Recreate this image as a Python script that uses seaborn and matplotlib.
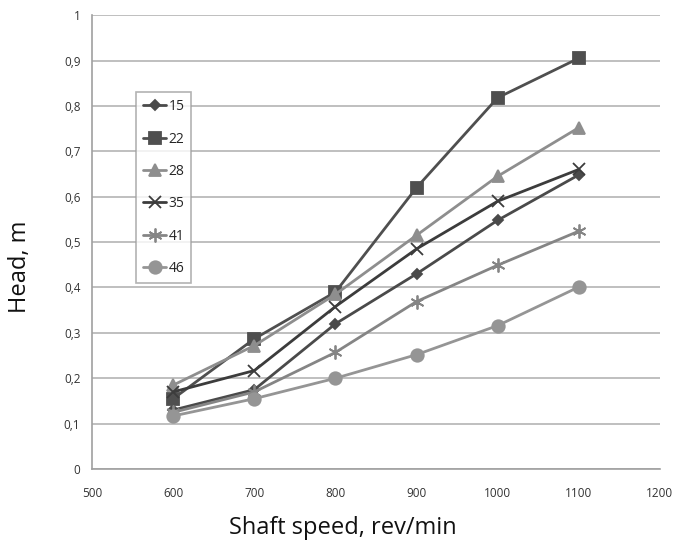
import matplotlib
matplotlib.use("Agg")
import matplotlib.pyplot as plt
import seaborn as sns
import pandas as pd
from matplotlib.ticker import FuncFormatter

speeds = [600, 700, 800, 900, 1000, 1100]
series_names = ["15", "22", "28", "35", "41", "46"]
h15 = [0.13, 0.175, 0.32, 0.43, 0.548, 0.648]
h22 = [0.155, 0.287, 0.39, 0.62, 0.818, 0.905]
h28 = [0.185, 0.272, 0.385, 0.515, 0.645, 0.752]
h35 = [0.17, 0.217, 0.358, 0.485, 0.59, 0.66]
h41 = [0.125, 0.17, 0.257, 0.369, 0.449, 0.524]
h46 = [0.117, 0.155, 0.2, 0.252, 0.316, 0.401]
x_ticks = [500, 600, 700, 800, 900, 1000, 1100, 1200]
y_ticks = [0, 0.1, 0.2, 0.3, 0.4, 0.5, 0.6, 0.7, 0.8, 0.9, 1]

values = [h15, h22, h28, h35, h41, h46]
rows = []
for name, vals in zip(series_names, values):
    for s, v in zip(speeds, vals):
        rows.append({"speed": s, "head": v, "series": name})
df = pd.DataFrame(rows)

sns.set_style("white")
plt.rcParams["font.family"] = ["Open Sans", "DejaVu Sans"]

colors = {"15": "#4a4a4a", "22": "#4f4f4f", "28": "#8e8e8e",
          "35": "#3c3c3c", "41": "#858585", "46": "#959595"}
markers = {"15": "D", "22": "s", "28": "^", "35": "x", "41": (6, 2, 0), "46": "o"}
msizes = {"15": 5.5, "22": 8, "28": 9, "35": 9, "41": 10, "46": 9}

fig = plt.figure(figsize=(6.88, 5.41), dpi=100)
ax = fig.add_axes([0.134, 0.133, 0.825, 0.839])

for name in series_names:
    sub = df[df["series"] == name]
    sns.lineplot(data=sub, x="speed", y="head", ax=ax, color=colors[name],
                 marker=markers[name], markersize=msizes[name],
                 markeredgecolor=colors[name], markeredgewidth=1.3,
                 linewidth=2.0, label=name)

ax.set_xlim(500, 1200)
ax.set_ylim(0, 1)
ax.set_xticks(x_ticks)
ax.set_yticks(y_ticks)
ax.yaxis.set_major_formatter(FuncFormatter(
    lambda v, p: "0" if v == 0 else ("1" if v == 1 else f"{v:.1f}".replace(".", ","))))
ax.grid(axis="y", color="#b4b4b4", linewidth=1.2)
ax.grid(axis="x", visible=False)
for sp in ["top", "right"]:
    ax.spines[sp].set_visible(False)
for sp in ["left", "bottom"]:
    ax.spines[sp].set_color("#a0a0a0")
    ax.spines[sp].set_linewidth(1.2)
ax.tick_params(axis="both", which="major", length=5, color="#a0a0a0",
               labelsize=8.5, labelcolor="#333333", direction="out")
ax.tick_params(axis="x", pad=8)
ax.set_axisbelow(True)

ax.set_xlabel("Shaft speed, rev/min", fontsize=17, color="#111111")
ax.set_ylabel("Head, m", fontsize=17, color="#111111")
ax.xaxis.set_label_coords(0.442, -0.104)
ax.yaxis.set_label_coords(-0.106, 0.445)

leg = ax.legend(loc="upper left", bbox_to_anchor=(0.078, 0.83), frameon=True,
                fancybox=False, edgecolor="#a0a0a0", fontsize=10,
                labelspacing=1.25, handlelength=1.6, handletextpad=0.2,
                borderpad=0.5, borderaxespad=0)
leg.get_frame().set_linewidth(1.2)

fig.savefig("out.png", dpi=100)
